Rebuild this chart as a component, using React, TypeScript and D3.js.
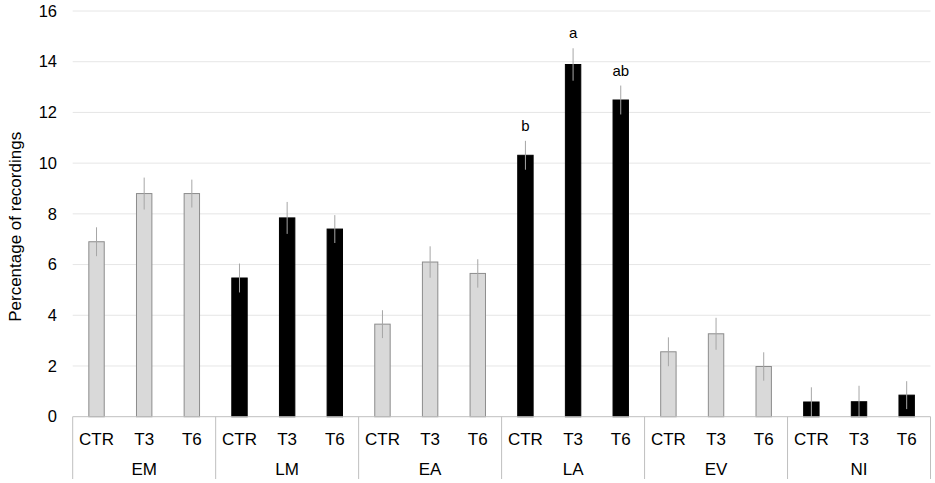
import React from "react";
import * as d3 from "d3";

const groups = ["EM", "LM", "EA", "LA", "EV", "NI"];
const treatments = ["CTR", "T3", "T6"];
const values = [
  [6.9, 8.8, 8.8],
  [5.47, 7.84, 7.4],
  [3.65, 6.1, 5.65],
  [10.31, 13.89, 12.49],
  [2.56, 3.27, 1.98],
  [0.58, 0.59, 0.85],
];
const errors = [
  [0.57, 0.63, 0.55],
  [0.57, 0.63, 0.55],
  [0.55, 0.62, 0.56],
  [0.57, 0.64, 0.57],
  [0.57, 0.63, 0.56],
  [0.58, 0.63, 0.55],
];
const darkGroups = ["LM", "LA", "NI"];
const letters = [
  ["", "", ""],
  ["", "", ""],
  ["", "", ""],
  ["b", "a", "ab"],
  ["", "", ""],
  ["", "", ""],
];
const yTicks = [0, 2, 4, 6, 8, 10, 12, 14, 16];

const W = 935;
const H = 483;
const left = 72.7;
const right = 930.5;
const top = 11;
const bottom = 416.7;

export default function App() {
  const y = d3.scaleLinear().domain([0, 16]).range([bottom, top]);
  const gx = d3.scaleBand().domain(groups).range([left, right]).padding(0);
  const tx = d3.scaleBand().domain(treatments).range([0, gx.bandwidth()]).padding(0);
  const barW = 15.4;
  const font = "'Liberation Sans', Arial, sans-serif";

  return (
    <svg width={W} height={H} style={{ position: "absolute", left: 0, top: 0, background: "#fff" }} fontFamily={font}>
      {yTicks.map((t) => (
        <g key={t}>
          {t > 0 && <line x1={left} x2={right} y1={y(t)} y2={y(t)} stroke="#e6e6e6" strokeWidth={1} />}
          <text x={57} y={y(t)} dy="0.35em" textAnchor="end" fontSize={16.5} fill="#000">{t}</text>
        </g>
      ))}
      <text transform={`translate(21,${(top + bottom) / 2 + 13}) rotate(-90)`} textAnchor="middle" fontSize={17} fill="#000">
        Percentage of recordings
      </text>
      {groups.map((g, gi) => {
        const dark = darkGroups.includes(g);
        return (
          <g key={g}>
            {treatments.map((t, ti) => {
              const cx = (gx(g) as number) + (tx(t) as number) + tx.bandwidth() / 2;
              const v = values[gi][ti];
              const e = errors[gi][ti];
              return (
                <g key={t}>
                  <rect x={cx - barW / 2} y={y(v)} width={barW} height={bottom - y(v)}
                    fill={dark ? "#000" : "#d9d9d9"} stroke={dark ? "#000" : "#8c8c8c"} strokeWidth={1} />
                  <line x1={cx} x2={cx} y1={y(v + e)} y2={y(v - e)} stroke="#a6a6a6" strokeWidth={1} />
                  {letters[gi][ti] && (
                    <text x={cx} y={y(v + e) - 10} textAnchor="middle" fontSize={15} fill="#000">{letters[gi][ti]}</text>
                  )}
                  <text x={cx} y={445} textAnchor="middle" fontSize={17} fill="#000">{t}</text>
                </g>
              );
            })}
            <text x={(gx(g) as number) + gx.bandwidth() / 2} y={475} textAnchor="middle" fontSize={17} fill="#000">{g}</text>
          </g>
        );
      })}
      <line x1={left} x2={right} y1={bottom} y2={bottom} stroke="#bfbfbf" strokeWidth={1} />
      {[...groups.map((g) => gx(g) as number), right].map((x, i) => (
        <line key={i} x1={x} x2={x} y1={bottom} y2={479} stroke="#bfbfbf" strokeWidth={1} />
      ))}
    </svg>
  );
}
